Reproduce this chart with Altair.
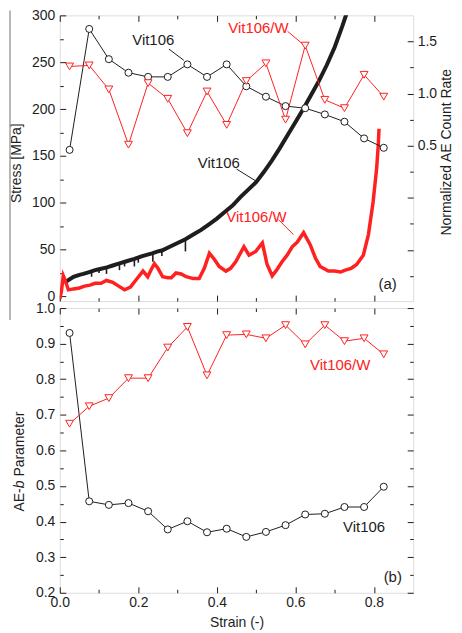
import altair as alt
import pandas as pd

FONT = "Liberation Sans"
INK = "#1e1e1e"
RED = "#ff2020"
GRAY = "#a0a0a0"

# ---------------- data ----------------
ae_strain = [0.025, 0.075, 0.125, 0.175, 0.225, 0.275, 0.325, 0.375, 0.425,
             0.475, 0.525, 0.575, 0.625, 0.675, 0.725, 0.775, 0.825]
ae_rate_vit106 = [0.46, 1.62, 1.33, 1.20, 1.16, 1.16, 1.28, 1.16, 1.28,
                  1.07, 0.97, 0.88, 0.86, 0.80, 0.73, 0.57, 0.48]
ae_rate_vit106w = [1.26, 1.27, 1.04, 0.51, 1.10, 0.95, 0.62, 1.02, 0.70,
                   1.12, 1.29, 0.75, 1.46, 0.94, 0.86, 1.18, 0.97]
b_vit106 = [0.930, 0.457, 0.447, 0.452, 0.429, 0.378, 0.401, 0.370, 0.380,
            0.357, 0.371, 0.390, 0.420, 0.422, 0.441, 0.441, 0.498]
b_vit106w = [0.675, 0.724, 0.747, 0.803, 0.803, 0.889, 0.947, 0.811, 0.924,
             0.926, 0.915, 0.952, 0.898, 0.952, 0.907, 0.915, 0.870]

stress_strain_vit106 = [0.012, 0.02, 0.035, 0.05, 0.06, 0.075, 0.09, 0.10, 0.12,
                        0.135, 0.150, 0.17, 0.19, 0.21, 0.235, 0.25, 0.26, 0.28,
                        0.30, 0.32, 0.34, 0.36, 0.38, 0.40, 0.42, 0.44, 0.46, 0.48,
                        0.50, 0.52, 0.54, 0.56, 0.58, 0.60, 0.62, 0.64, 0.66,
                        0.68, 0.70, 0.72, 0.74]
stress_vit106 = [14, 17, 21, 23, 24, 26, 28, 29, 31,
                 33, 35, 37.5, 40, 43, 46, 48, 49, 53,
                 57, 61, 66, 71, 77, 83, 90, 97, 106, 114,
                 122, 133, 145, 158, 172, 186, 200, 215, 230,
                 247, 266, 289, 314]
# small serrations (sudden stress drops) on the Vit106 curve
spike_strain = [0.081, 0.100, 0.119, 0.152, 0.165, 0.190, 0.200, 0.237, 0.260, 0.320]
spike_top = [27, 29, 31, 35, 37, 40, 41, 46, 49, 61]
spike_bottom = [21, 25, 24, 28, 32, 32, 36, 37, 43, 48]

stress_strain_vit106w = [0.000, 0.004, 0.009, 0.013, 0.022, 0.035, 0.05, 0.063, 0.077,
                         0.09, 0.105, 0.119, 0.135, 0.15, 0.165, 0.18, 0.195, 0.212,
                         0.224, 0.232, 0.241, 0.25, 0.262, 0.275, 0.284, 0.296, 0.309,
                         0.322, 0.34, 0.355, 0.368, 0.381, 0.393, 0.406, 0.423, 0.435,
                         0.448, 0.469, 0.482, 0.499, 0.516, 0.528, 0.541, 0.552, 0.566,
                         0.579, 0.592, 0.605, 0.621, 0.638, 0.651, 0.663, 0.684, 0.70,
                         0.715, 0.727, 0.742, 0.756, 0.773, 0.786, 0.798, 0.807, 0.811,
                         0.813]
stress_vit106w = [-3, 5, 22, 18, 7, 8, 9, 11, 12,
                  14, 14, 17, 15, 11, 7, 10, 18, 27,
                  21, 28, 35, 30, 21, 20, 20, 25, 24,
                  21, 19, 19, 30, 46, 40, 32, 27, 30,
                  37, 53, 44, 48, 57, 34, 22, 28, 37,
                  44, 53, 58, 68, 55, 41, 32, 27, 27,
                  26, 28, 30, 34, 44, 66, 101, 137, 161,
                  179]

# tick values
x_ticks = [0.0, 0.1, 0.2, 0.3, 0.4, 0.5, 0.6, 0.7, 0.8]
stress_ticks = [0, 25, 50, 75, 100, 125, 150, 175, 200, 225, 250, 275, 300]
rate_ticks = [-0.75, -0.5, -0.25, 0.0, 0.25, 0.5, 0.75, 1.0, 1.25, 1.5]
b_ticks = [0.2, 0.25, 0.3, 0.35, 0.4, 0.45, 0.5, 0.55, 0.6, 0.65, 0.7,
           0.75, 0.8, 0.85, 0.9, 0.95, 1.0]

# annotations (panel a in stress units, panel b in b-parameter units)
ann_a_text = ["Vit106", "Vit106/W", "Vit106", "Vit106/W", "(a)"]
ann_a_strain = [0.238, 0.506, 0.405, 0.501, 0.835]
ann_a_stress = [274, 286, 142.5, 85, 12.8]
ann_a_color = [INK, RED, INK, RED, INK]
lead_a_x1 = [0.278, 0.580, 0.450, 0.557]
lead_a_x2 = [0.316, 0.620, 0.504, 0.595]
lead_a_y1 = [264, 283, 136, 82]
lead_a_y2 = [252, 269, 122, 66]
lead_a_color = [INK, RED, INK, RED]
ann_b_text = ["Vit106", "(b)"]
ann_b_strain = [0.775, 0.848]
ann_b_value = [0.384, 0.245]
ann_bw_text = ["Vit106/W"]
ann_bw_strain = [0.714]
ann_bw_value = [0.841]

# ---------------- tables ----------------
df_sa = pd.DataFrame({"strain": stress_strain_vit106, "stress": stress_vit106})
df_spk = pd.DataFrame({"strain": spike_strain, "top": spike_top, "bottom": spike_bottom})
df_sw = pd.DataFrame({"strain": stress_strain_vit106w, "stress": stress_vit106w})
df_ae = pd.DataFrame({"strain": ae_strain, "r1": ae_rate_vit106, "r2": ae_rate_vit106w,
                      "b1": b_vit106, "b2": b_vit106w})
df_ann_a = pd.DataFrame({"strain": ann_a_strain, "stress": ann_a_stress,
                         "text": ann_a_text, "color": ann_a_color})
df_lead_a = pd.DataFrame({"x1": lead_a_x1, "x2": lead_a_x2, "y1": lead_a_y1,
                          "y2": lead_a_y2, "color": lead_a_color})
df_ann_b = pd.DataFrame({"strain": ann_b_strain, "b": ann_b_value, "text": ann_b_text})
df_ann_bw = pd.DataFrame({"strain": ann_bw_strain, "b": ann_bw_value, "text": ann_bw_text})
df_one = pd.DataFrame({"k": [0]})

W, H1, H2 = 355, 287, 286

xs = alt.Scale(domain=[0, 0.9], nice=False, zero=False)
ys_stress = alt.Scale(domain=[-5, 300], nice=False, zero=False)
ys_rate = alt.Scale(domain=[-0.99, 1.75], nice=False, zero=False)
ys_b = alt.Scale(domain=[0.2, 1.0], nice=False, zero=False)

MINOR_X = "round(datum.value*10) % 2 != 0"
MINOR_S = "datum.value % 50 != 0"
MINOR_R = "abs(datum.value*2 - round(datum.value*2)) > 0.01"
MINOR_B = "round(datum.value*20) % 2 != 0"


def mk_axis(orient, values, minor_test, labels=False, label_expr=None, title=None, **kw):
    d = dict(orient=orient, values=values, domain=False, grid=False, ticks=True,
             tickSize=6, offset=-6, tickColor=INK, tickWidth=1,
             tickDash={"condition": {"test": minor_test, "value": [0, 2.5, 3.5]},
                       "value": [10, 0]},
             labels=labels, labelFont=FONT, labelFontSize=14, labelColor=INK,
             labelOverlap=False, labelFlush=False, labelBound=False, labelPadding=5,
             titleFont=FONT, titleFontSize=14, titleColor=INK, titleFontWeight="normal",
             title=title)
    if label_expr is not None:
        d["labelExpr"] = label_expr
    d.update(kw)
    return alt.Axis(**d)


ax_x_a_bottom = mk_axis("bottom", x_ticks, MINOR_X)
ax_x_a_top = mk_axis("top", x_ticks, MINOR_X)
ax_y_stress = mk_axis("left", stress_ticks, MINOR_S, labels=True,
                      label_expr="datum.value % 50 == 0 ? datum.label : ''",
                      title="Stress [MPa]", titleX=-49, titleY=148, titleAngle=270,
                      titleAlign="center", titleBaseline="middle")
ax_y_rate = mk_axis("right", rate_ticks, MINOR_R, labels=True, labelPadding=4,
                    label_expr="datum.value > 0.4 && abs(datum.value*2 - round(datum.value*2)) < 0.01 ? format(datum.value, '.1f') : ''",
                    title="Normalized AE Count Rate", titleX=39, titleY=137, titleAngle=270,
                    titleAlign="center", titleBaseline="middle")
ax_x_b_bottom = mk_axis("bottom", x_ticks, MINOR_X, labels=True,
                        label_expr="round(datum.value*10) % 2 == 0 ? format(datum.value, '.1f') : ''",
                        labelPadding=3,
                        title="Strain (-)", titleX=177.5, titleY=36, titleAngle=0,
                        titleAlign="center", titleBaseline="middle")
ax_x_b_top = mk_axis("top", x_ticks, MINOR_X)
ax_y_b_left = mk_axis("left", b_ticks, MINOR_B, labels=True,
                      label_expr="round(datum.value*20) % 2 == 0 ? format(datum.value, '.1f') : ''")
ax_y_b_right = mk_axis("right", b_ticks, MINOR_B)

# ---------------- panel (a) ----------------
xa = alt.X("strain:Q", scale=xs, axis=ax_x_a_bottom)
ya = alt.Y("stress:Q", scale=ys_stress, axis=ax_y_stress)

stress_black = alt.Chart(df_sa).mark_line(color=INK, strokeWidth=4, clip=True).encode(x=xa, y=ya)
spikes = alt.Chart(df_spk).mark_rule(color=INK, strokeWidth=1.6).encode(
    x=xa, y=alt.Y("top:Q", scale=ys_stress, axis=ax_y_stress), y2="bottom:Q")
stress_red = alt.Chart(df_sw).mark_line(color=RED, strokeWidth=3.5, clip=True).encode(x=xa, y=ya)
ann_a = alt.Chart(df_ann_a).mark_text(font=FONT, fontSize=15, align="center",
                                      baseline="middle").encode(
    x=xa, y=ya, text="text:N", color=alt.Color("color:N", scale=None))
lead_a = alt.Chart(df_lead_a).mark_rule(strokeWidth=1).encode(
    x=alt.X("x1:Q", scale=xs, axis=ax_x_a_bottom), x2="x2:Q",
    y=alt.Y("y1:Q", scale=ys_stress, axis=ax_y_stress), y2="y2:Q",
    color=alt.Color("color:N", scale=None))
stray = alt.Chart(df_one).mark_rule(color=GRAY, strokeWidth=1.5).encode(
    x=alt.value(-50), y=alt.value(-5), y2=alt.value(306))

a_left = alt.layer(stress_black, spikes, stress_red, lead_a, ann_a, stray)

xr = alt.X("strain:Q", scale=xs, axis=ax_x_a_top)
rate1_line = alt.Chart(df_ae).mark_line(color=INK, strokeWidth=1).encode(
    x=xr, y=alt.Y("r1:Q", scale=ys_rate, axis=ax_y_rate))
rate1_pts = alt.Chart(df_ae).mark_point(shape="circle", size=50, filled=True, fill="white",
                                        stroke=INK, strokeWidth=1, opacity=1).encode(
    x=xr, y=alt.Y("r1:Q", scale=ys_rate, axis=ax_y_rate))
rate2_line = alt.Chart(df_ae).mark_line(color=RED, strokeWidth=1).encode(
    x=xr, y=alt.Y("r2:Q", scale=ys_rate, axis=ax_y_rate))
rate2_pts = alt.Chart(df_ae).mark_point(shape="triangle-down", size=62, filled=True, fill="white",
                                        stroke=RED, strokeWidth=1, opacity=1).encode(
    x=xr, y=alt.Y("r2:Q", scale=ys_rate, axis=ax_y_rate))
a_right = alt.layer(rate1_line, rate2_line, rate1_pts, rate2_pts)

panel_a = alt.layer(a_left, a_right).resolve_scale(x="independent", y="independent").properties(
    width=W, height=H1)

# ---------------- panel (b) ----------------
xb = alt.X("strain:Q", scale=xs, axis=ax_x_b_bottom)
yb = alt.Y("b1:Q", scale=ys_b, axis=ax_y_b_left)
b1_line = alt.Chart(df_ae).mark_line(color=INK, strokeWidth=1).encode(x=xb, y=yb)
b1_pts = alt.Chart(df_ae).mark_point(shape="circle", size=50, filled=True, fill="white",
                                     stroke=INK, strokeWidth=1, opacity=1).encode(x=xb, y=yb)
ann_b = alt.Chart(df_ann_b).mark_text(font=FONT, fontSize=15, color=INK, align="center",
                                      baseline="middle").encode(
    x=xb, y=alt.Y("b:Q", scale=ys_b, axis=ax_y_b_left), text="text:N")
t1 = alt.Chart(df_one).mark_text(font=FONT, fontSize=14, color=INK, angle=270, align="right",
                                 baseline="middle", text="AE-").encode(
    x=alt.value(-40), y=alt.value(181))
t2 = alt.Chart(df_one).mark_text(font=FONT, fontSize=14, color=INK, angle=270, align="left",
                                 baseline="middle", fontStyle="italic", text="b").encode(
    x=alt.value(-40), y=alt.value(181))
t3 = alt.Chart(df_one).mark_text(font=FONT, fontSize=14, color=INK, angle=270, align="left",
                                 baseline="middle", text="Parameter").encode(
    x=alt.value(-40), y=alt.value(169.3))
b_left = alt.layer(b1_line, b1_pts, ann_b, t1, t2, t3)

xb2 = alt.X("strain:Q", scale=xs, axis=ax_x_b_top)
yb2 = alt.Y("b2:Q", scale=ys_b, axis=ax_y_b_right)
b2_line = alt.Chart(df_ae).mark_line(color=RED, strokeWidth=1).encode(x=xb2, y=yb2)
b2_pts = alt.Chart(df_ae).mark_point(shape="triangle-down", size=62, filled=True, fill="white",
                                     stroke=RED, strokeWidth=1, opacity=1).encode(x=xb2, y=yb2)
ann_bw = alt.Chart(df_ann_bw).mark_text(font=FONT, fontSize=15, color=RED, align="center",
                                        baseline="middle").encode(
    x=xb2, y=alt.Y("b:Q", scale=ys_b, axis=ax_y_b_right), text="text:N")
b_right = alt.layer(b2_line, b2_pts, ann_bw)

panel_b = alt.layer(b_left, b_right).resolve_scale(x="independent", y="independent").properties(
    width=W, height=H2)

chart = alt.vconcat(panel_a, panel_b, spacing=7, bounds="flush").properties(
    padding={"left": 0, "top": -2, "right": 0, "bottom": 0}
).configure_view(stroke=INK, strokeWidth=1.5).configure(background="white")

chart.save("out.html", embed_options={"renderer": "svg", "actions": False})
